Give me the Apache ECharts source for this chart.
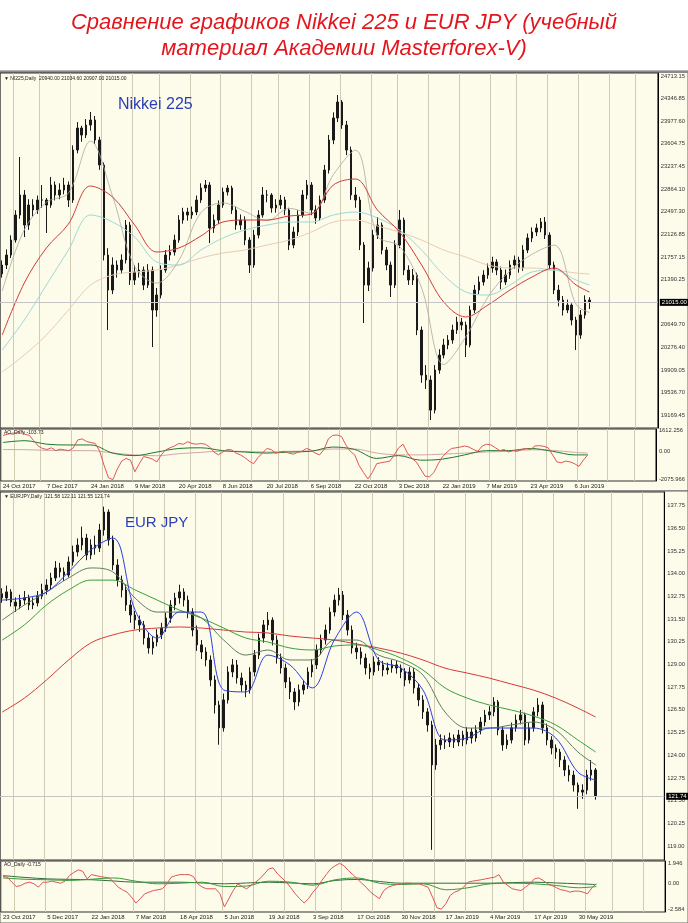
<!DOCTYPE html>
<html><head><meta charset="utf-8">
<script src="https://cdn.jsdelivr.net/npm/echarts@6.0.0/dist/echarts.min.js"></script>
<style>html,body{margin:0;padding:0;background:#ffffff;}#chart{width:688px;height:923px;}</style>
</head><body><div id="chart"></div>
<script>
// ================= DATA =================
const nikkeiDates = ['24 Oct 2017','7 Dec 2017','24 Jan 2018','9 Mar 2018','20 Apr 2018','8 Jun 2018','20 Jul 2018','6 Sep 2018','22 Oct 2018','3 Dec 2018','22 Jan 2019','7 Mar 2019','23 Apr 2019','6 Jun 2019'];
const eurjpyDates = ['23 Oct 2017','5 Dec 2017','22 Jan 2018','7 Mar 2018','18 Apr 2018','5 Jun 2018','19 Jul 2018','3 Sep 2018','17 Oct 2018','30 Nov 2018','17 Jan 2019','4 Mar 2019','17 Apr 2019','30 May 2019'];

const nikkeiPriceTicks = [24713.15,24346.85,23977.60,23604.75,23237.45,22864.10,22497.30,22126.85,21757.15,21390.25,20649.70,20276.40,19909.05,19536.70,19169.45];
const eurjpyPriceTicks = [137.75,136.50,135.25,134.00,132.75,131.50,130.25,129.00,127.75,126.50,125.25,124.00,122.75,121.50,120.25,119.00];
const nikkeiOscTicks = [1612.256, 0, -2075.966];
const nikkeiOscTickLabels = ['1612.256','0.00','-2075.966'];
const eurjpyOscTicks = [1.946, 0, -2.584];
const eurjpyOscTickLabels = ['1.946','0.00','-2.584'];

// candles: [open, close, low, high]
const nikkeiCandles = [
[21480,21625,21420,21700],[21625,21788,21560,21880],[21788,22033,21740,22110],[22033,22442,21990,22520],[22442,22769,22380,23390],
[22769,22278,22082,22850],[22278,22605,22200,22700],[22605,22524,22420,22700],[22524,22687,22460,22760],[22687,22687,22560,22932],
[22687,22605,22148,22720],[22605,22932,22560,23063],[22932,22769,22680,22990],[22769,22850,22700,22960],[22850,22932,22780,23050],
[22932,22687,22573,22990],[22687,23504,22640,23580],[23504,23863,23450,23960],[23863,23749,23640,23900],[23749,23912,23700,24010],
[23912,23994,23820,24125],[23994,23667,23600,24060],[23667,23259,23180,23720],[23259,21788,21700,23300],[21788,21216,20563,21900],
[21216,21625,21150,21750],[21625,21543,21420,21700],[21543,21707,21480,21800],[21707,22278,21650,22360],[22278,21380,21300,22330],
[21380,21510,21300,21620],[21510,21543,21420,21660],[21543,21298,21216,21600],[21298,21543,21250,21640],[21543,20890,20285,21600],
[20890,21135,20780,21250],[21135,21543,21080,21620],[21543,21788,21500,21870],[21788,21837,21700,21950],[21837,22033,21780,22120],
[22033,22360,21990,22440],[22360,22491,22300,22560],[22491,22442,22350,22560],[22442,22491,22380,22580],[22491,22687,22440,22760],
[22687,22883,22640,22960],[22883,22932,22820,23014],[22932,22229,21984,22980],[22229,22360,22150,22450],[22360,22605,22300,22680],
[22605,22818,22560,22890],[22818,22883,22760,22932],[22883,22524,22460,22920],[22524,22278,22200,22580],[22278,22360,22200,22450],
[22360,22033,21950,22420],[22033,21625,21494,22080],[21625,22115,21580,22200],[22115,22442,22060,22520],[22442,22769,22400,22899],
[22769,22769,22650,22850],[22769,22556,22480,22800],[22556,22605,22480,22700],[22605,22687,22540,22770],[22687,22524,22440,22740],
[22524,21952,21870,22560],[21952,22164,21900,22250],[22164,22442,22100,22520],[22442,22769,22400,22850],[22769,22932,22700,23014],
[22932,22524,22440,22980],[22524,22393,22300,22600],[22393,22687,22350,22760],[22687,23177,22640,23260],[23177,23667,23120,23750],
[23667,24027,23600,24120],[24027,24288,23960,24403],[24288,23912,23850,24320],[23912,23504,23420,23980],[23504,22769,22690,23560],
[22769,22687,22560,22899],[22687,21952,21870,22740],[21952,21298,20677,22000],[21298,21576,21200,21680],[21576,22115,21520,22200],
[22115,22278,22050,22409],[22278,21870,21800,22320],[21870,21625,21540,21920],[21625,21298,21102,21680],[21298,21952,21250,22030],
[21952,22360,21900,22524],[22360,21543,21460,22400],[21543,21380,21300,21620],[21380,21461,21298,21560],[21461,20563,20480,21500],
[20563,19827,19700,20620],[19827,19746,19600,19990],[19746,19255,19092,19820],[19255,19909,19200,19990],[19909,20154,19850,20250],
[20154,20318,20100,20420],[20318,20399,20250,20480],[20399,20563,20340,20650],[20563,20693,20500,20780],[20693,20644,20560,20760],
[20644,20318,20122,20700],[20318,20890,20280,20960],[20890,21216,20840,21300],[21216,21347,21150,21440],[21347,21461,21290,21540],
[21461,21576,21400,21650],[21576,21674,21500,21760],[21674,21543,21460,21720],[21543,21347,21230,21600],[21347,21461,21300,21550],
[21461,21625,21400,21700],[21625,21707,21560,21780],[21707,21576,21500,21760],[21576,21870,21530,21950],[21870,22066,21820,22140],
[22066,22164,22000,22240],[22164,22229,22100,22300],[22229,22328,22160,22393],[22328,22115,22050,22409],[22115,21625,21550,22160],
[21625,21216,21150,21680],[21216,21053,20950,21300],[21053,20890,20800,21120],[20890,20971,20840,21060],[20971,20726,20640,21000],
[20726,20481,20236,20780],[20481,20808,20420,20890],[20808,21053,20750,21130],[21053,21015,20907,21100]
];

// moving averages of Nikkei, read at these candle indices
const nikkeiMaIdx = [0,5,10,15,20,25,30,35,40,45,50,55,60,65,70,75,80,85,90,95,100,105,110,115,120,125,130,133];
const nikkeiMaRed   = [20482,21331,21903,22295,22916,22736,22278,21838,21903,22099,22328,22360,22360,22426,22458,22932,23030,22524,22164,21625,21021,20776,20971,21216,21429,21576,21298,21184];
const nikkeiMaCyan  = [20237,20727,21298,21870,22442,22328,22082,21674,21625,21870,22066,22197,22278,22328,22328,22442,22491,22393,22197,21870,21462,21184,21135,21298,21511,21543,21380,21298];
const nikkeiMaBeige = [19877,20155,20482,20890,21298,21462,21511,21543,21625,21740,21821,21870,21952,22033,22164,22328,22360,22262,22164,22033,21870,21756,21625,21576,21576,21543,21494,21478];
const nikkeiMaGray  = [21200,22200,22650,22800,23650,22750,21600,21330,21700,22480,22640,22500,22350,22550,22470,23100,23500,22100,21930,21250,20000,20450,21100,21530,21800,21950,20980,20850];

// Nikkei oscillator (one value per candle) and its two averages
const nikkeiOscRed = [1211,1290,1370,1400,1612,1290,1211,817,424,240,
163,290,80,190,135,80,290,870,951,765,
684,610,30,-1025,-1940,-2076,-1285,-700,-498,-630,
-1490,-892,-364,-440,-550,-758,-238,135,290,424,
610,557,740,610,557,610,557,345,-25,-238,
-25,163,135,-104,-238,-440,-700,-892,-440,-104,
240,163,-104,-25,30,-104,-185,-50,30,240,
135,-104,-238,163,951,1211,1240,1130,500,30,
-238,-1025,-1545,-2020,-1545,-892,-820,-758,-700,-238,
290,557,-104,-498,-758,-1285,-1813,-1870,-1545,-892,
-364,-25,240,290,345,424,345,163,30,424,
557,500,290,80,163,-25,80,30,163,240,
163,424,450,400,290,-238,-758,-820,-700,-758,
-892,-1090,-630,-238];
const nikkeiOscGreen = [684,817,557,500,500,-104,-290,-25,240,290,80,-25,-104,-25,30,345,163,-498,-290,-630,-550,-238,80,80,240,30,-238,-238];
const nikkeiOscGray  = [163,150,100,80,80,-100,-238,-300,-150,-50,40,20,-25,30,60,200,200,-100,-238,-238,-180,-104,-20,30,140,100,-50,-104];

const eurjpyCandles = [
[132.90,132.67,132.40,133.20],[132.67,133.00,132.50,133.35],[133.00,132.44,132.20,133.15],[132.44,132.22,131.90,132.70],[132.22,132.55,132.05,132.85],
[132.55,132.67,132.30,133.05],[132.67,132.28,132.00,132.85],[132.28,132.39,132.05,132.70],[132.39,132.77,132.20,133.05],[132.77,133.10,132.60,133.45],
[133.10,133.38,132.85,133.70],[133.38,133.77,133.10,134.05],[133.77,134.32,133.60,134.70],[134.32,134.10,133.80,134.60],[134.10,133.93,133.60,134.35],
[133.93,134.65,133.80,134.95],[134.65,135.20,134.45,135.55],[135.20,135.58,134.95,135.95],[135.58,135.97,135.30,136.60],[135.97,135.03,134.75,136.20],
[135.03,135.58,134.80,135.90],[135.58,135.42,135.05,136.10],[135.42,136.41,135.20,136.75],[136.41,137.40,136.10,137.70],[137.40,135.86,135.55,137.55],
[135.86,134.48,134.20,136.10],[134.48,133.66,133.30,134.80],[133.66,133.10,132.70,133.90],[133.10,132.28,131.95,133.40],[132.28,131.73,131.30,132.55],
[131.73,131.45,130.95,131.95],[131.45,131.18,130.80,131.70],[131.18,130.46,130.10,131.40],[130.46,129.91,129.60,130.75],[129.91,130.24,129.55,130.55],
[130.24,130.63,130.00,130.95],[130.63,131.01,130.40,131.30],[131.01,131.56,130.80,131.85],[131.56,132.28,131.30,132.55],[132.28,132.67,132.00,132.95],
[132.67,133.00,132.35,133.40],[133.00,132.55,132.20,133.20],[132.55,131.89,131.55,132.80],[131.89,130.90,130.55,132.10],[130.90,130.08,129.75,131.15],
[130.08,129.69,129.30,130.35],[129.69,129.25,128.90,129.95],[129.25,128.15,127.80,129.50],[128.15,126.77,126.30,128.40],[126.77,125.51,124.58,127.00],
[125.51,127.05,125.30,127.40],[127.05,128.59,126.85,128.90],[128.59,128.98,128.30,129.30],[128.98,128.26,127.95,129.25],[128.26,127.87,127.50,128.55],
[127.87,127.60,127.20,128.10],[127.60,128.59,127.40,128.85],[128.59,129.52,128.35,129.80],[129.52,130.46,129.30,130.70],[130.46,131.18,130.20,131.45],
[131.18,131.45,130.90,131.89],[131.45,130.35,130.05,131.60],[130.35,129.36,129.05,130.60],[129.36,128.81,128.50,129.60],[128.81,128.04,127.70,129.05],
[128.04,127.49,127.10,128.30],[127.49,126.94,126.50,127.70],[126.94,127.60,126.70,127.90],[127.60,127.87,127.35,128.15],[127.87,128.59,127.65,128.85],
[128.59,128.98,128.30,129.30],[128.98,129.80,128.75,130.10],[129.80,130.35,129.55,130.65],[130.35,130.90,130.10,131.20],[130.90,131.89,130.70,132.15],
[131.89,132.55,131.65,132.85],[132.55,132.83,132.25,133.22],[132.83,131.73,131.45,133.05],[131.73,130.90,130.60,132.00],[130.90,129.91,129.60,131.15],
[129.91,129.69,129.30,130.20],[129.69,129.36,129.00,129.95],[129.36,128.81,128.45,129.60],[128.81,128.59,128.20,129.05],[128.59,129.14,128.40,129.45],
[129.14,128.98,128.65,129.40],[128.98,128.70,128.35,129.20],[128.70,128.81,128.45,129.10],[128.81,128.98,128.55,129.25],[128.98,128.81,128.50,129.20],
[128.81,128.59,128.25,129.00],[128.59,128.15,127.80,128.80],[128.15,128.59,127.95,128.85],[128.59,127.71,127.40,128.80],[127.71,127.05,126.70,127.95],
[127.05,126.39,126.00,127.30],[126.39,125.67,125.30,126.60],[125.67,123.47,118.79,125.90],[123.47,124.57,123.20,124.90],[124.57,124.84,124.30,125.15],
[124.84,124.73,124.35,125.10],[124.73,124.95,124.45,125.25],[124.95,124.73,124.40,125.15],[124.73,125.12,124.50,125.40],[125.12,124.84,124.50,125.35],
[124.84,125.28,124.60,125.55],[125.28,124.95,124.65,125.50],[124.95,125.39,124.75,125.65],[125.39,125.83,125.15,126.10],[125.83,126.22,125.60,126.50],
[126.22,126.39,125.95,126.70],[126.39,126.94,126.15,127.20],[126.94,125.39,125.10,127.05],[125.39,124.57,124.25,125.60],[124.57,124.84,124.35,125.15],
[124.84,125.51,124.65,125.80],[125.51,125.94,125.30,126.25],[125.94,126.22,125.70,126.50],[126.22,124.84,124.55,126.35],[124.84,125.51,124.65,125.80],
[125.51,126.39,125.30,126.65],[126.39,126.77,126.15,127.15],[126.77,125.51,125.20,126.95],[125.51,124.84,124.55,125.75],[124.84,124.40,124.05,125.05],
[124.40,124.18,123.80,124.60],[124.18,123.74,123.35,124.35],[123.74,123.19,122.85,123.95],[123.19,122.91,122.55,123.45],[122.91,122.36,122.00,123.15],
[122.36,121.97,121.05,122.50],[121.97,122.08,121.60,122.40],[122.08,122.91,121.85,123.20],[122.91,123.19,122.60,123.74],[123.19,121.74,121.55,123.30]
];

const eurjpyMaIdx = [0,5,10,15,20,25,30,35,40,45,50,55,60,65,70,75,80,85,90,95,100,105,110,115,120,125,130,134];
const eurjpyMaRed   = [126.38,127.15,128.15,129.25,130.19,130.63,130.90,131.01,131.07,131.01,130.90,130.79,130.74,130.57,130.46,130.35,130.13,129.91,129.63,129.25,128.80,128.53,128.25,127.92,127.59,127.15,126.60,126.11];
const eurjpyMaGreen = [130.35,131.18,132.28,133.11,133.65,133.65,133.11,132.55,132.00,131.56,131.01,130.46,130.24,129.91,129.80,130.02,130.08,129.80,129.36,128.70,127.71,127.15,126.77,126.49,126.16,125.67,124.84,124.18];
const eurjpyMaDark  = [131.45,132.28,132.99,133.77,134.32,134.10,132.66,131.89,131.89,131.56,130.35,129.52,129.80,129.25,129.25,130.35,130.35,129.52,129.14,128.42,126.38,125.50,125.50,125.67,125.83,125.39,124.18,123.47];
const eurjpyMaBlue  = [132.55,132.67,132.99,134.10,135.31,135.97,132.00,130.46,131.89,131.89,127.60,127.49,129.52,128.97,127.71,130.35,131.89,129.25,128.81,127.60,124.84,124.95,125.50,125.50,125.50,124.95,123.07,122.63];

const eurjpyOscRed = [0.63,0.57,0.08,-0.35,-0.25,-0.02,0.08,-0.08,-0.41,0.08,
0.08,0.18,0.08,-0.02,0.18,0.73,1.05,1.29,1.16,0.41,
0.83,0.73,0.63,0.57,0.50,0.08,-0.41,-0.67,-0.90,-1.39,
-1.98,-1.55,-1.07,-0.90,-0.74,-0.67,-0.57,-0.08,0.57,0.73,
0.83,0.83,0.83,0.63,-0.08,-0.41,-0.57,-0.57,-0.57,-1.07,
-2.37,-1.55,-0.74,-0.08,-0.35,-0.57,-0.25,0.08,0.41,0.90,
1.39,1.49,0.90,0.50,0.08,-0.47,-1.07,-1.55,-1.98,-1.55,
-0.90,-0.41,0.25,0.83,1.39,1.70,1.946,1.70,1.23,0.83,
0.41,-0.02,-0.41,-0.90,-1.23,-1.55,-0.74,-0.41,-0.25,-0.15,
-0.08,-0.02,-0.02,-0.08,-0.08,-0.25,-0.41,-1.39,-2.44,-2.584,
-2.05,-1.23,-0.90,-0.74,-0.41,0.08,0.18,0.25,0.32,0.41,
0.50,0.57,0.83,0.08,-0.25,-0.57,-0.67,-0.74,-0.41,-0.08,
0.41,0.50,0.25,-0.08,-0.25,-0.47,-0.67,-0.74,-0.90,-0.80,
-0.80,-0.90,-1.07,-0.47,-0.08];
const eurjpyOscGreen = [0.50,0.37,0.32,0.25,0.37,0.50,0.18,-0.08,-0.02,0.08,-0.35,-0.30,0.18,0.08,-0.22,0.32,0.50,-0.02,-0.15,-0.08,-0.67,-0.47,-0.08,-0.02,-0.08,-0.25,-0.47,-0.35];
const eurjpyOscDark  = [0.73,0.55,0.41,0.36,0.32,0.20,0.08,0.08,0.08,0.00,-0.08,0.00,0.08,0.00,-0.08,0.25,0.35,0.15,-0.02,-0.02,-0.02,-0.02,-0.02,0.04,0.08,0.00,-0.08,-0.15];

// ================= LAYOUT / STYLE =================
const BARS_PER_LABEL = 10;
const NK_SLOTS = 149, EJ_SLOTS = 150;
const NK_W = 660, EJ_W = 665;
const CREAM = '#fdfbe9';
const GRIDLINE = '#cfcbb5';
const FONT = '"Liberation Sans", Arial, sans-serif';

const nkCats = Array.from({length: NK_SLOTS}, (_, i) => 'n' + i);
const ejCats = Array.from({length: EJ_SLOTS}, (_, i) => 'e' + i);

function pairs(idx, vals) { return vals.map((v, k) => [idx[k], v]); }

function vGrid(slotW, start, step) {
  return function (i) {
    const x = i * slotW;
    const k = Math.round((x - start) / step);
    return k >= 0 && Math.abs(start + k * step - x) <= slotW / 2;
  };
}

function xAx(gi, cats, dates, showLabels, totalW, start, step) {
  const slotW = totalW / cats.length;
  return {
    type: 'category', gridIndex: gi, data: cats, boundaryGap: true,
    axisLine: {show: false}, axisTick: {show: false},
    axisLabel: showLabels ? {
      show: true,
      interval: (i) => i % BARS_PER_LABEL === 0 && i / BARS_PER_LABEL < dates.length,
      formatter: (v, i) => dates[i / BARS_PER_LABEL] || '',
      align: 'left', fontSize: 6, color: '#222', margin: 2, fontFamily: FONT
    } : {show: false},
    splitLine: {show: true, interval: vGrid(slotW, start, step), lineStyle: {color: GRIDLINE, width: 1}}
  };
}

function yAx(gi, min, max, ticks, fmt) {
  return {
    type: 'value', gridIndex: gi, position: 'right', min: min, max: max,
    axisLine: {show: true, lineStyle: {color: '#000', width: 1}},
    axisTick: {show: false},
    axisLabel: {show: true, customValues: ticks, formatter: fmt, fontSize: 5.8, color: '#333', margin: 3, fontFamily: FONT},
    splitLine: {show: false}
  };
}

function line(xi, yi, data, color, width, z) {
  return {type: 'line', xAxisIndex: xi, yAxisIndex: yi, data: data, showSymbol: false, smooth: 0.35,
    lineStyle: {color: color, width: width}, itemStyle: {color: color}, z: z || 3, silent: true};
}

function candles(xi, yi, data, digits) {
  const last = data[data.length - 1][1];
  return {
    type: 'candlestick', xAxisIndex: xi, yAxisIndex: yi, data: data, barWidth: 2, z: 2,
    itemStyle: {color: '#1a1a1a', color0: '#1a1a1a', borderColor: '#1a1a1a', borderColor0: '#1a1a1a', borderWidth: 1},
    markLine: {
      silent: true, symbol: 'none', animation: false,
      data: [{yAxis: last}],
      lineStyle: {color: '#c4c4c4', width: 1, type: 'solid'},
      label: {position: 'end', formatter: last.toFixed(digits), color: '#fff', backgroundColor: '#000',
              fontSize: 6, fontFamily: FONT, padding: [1, 2, 0, 2], distance: 2}
    }
  };
}

const tickFmt = (vals, labels) => (v) => { const k = vals.findIndex(t => Math.abs(t - v) < 1e-6); return k >= 0 ? labels[k] : ''; };

const option = {
  animation: false,
  backgroundColor: '#ffffff',
  grid: [
    {left: 0, top: 73, width: NK_W, height: 355, show: true, borderColor: '#333', borderWidth: 1, backgroundColor: 'transparent'},
    {left: 0, top: 429, width: NK_W, height: 52, show: true, borderColor: '#333', borderWidth: 1, backgroundColor: 'transparent'},
    {left: 0, top: 492, width: EJ_W, height: 368, show: true, borderColor: '#333', borderWidth: 1, backgroundColor: 'transparent'},
    {left: 0, top: 861, width: EJ_W, height: 51, show: true, borderColor: '#333', borderWidth: 1, backgroundColor: 'transparent'}
  ],
  xAxis: [
    xAx(0, nkCats, nikkeiDates, false, NK_W, 11.7, 29.9),
    xAx(1, nkCats, nikkeiDates, true, NK_W, 11.7, 29.9),
    xAx(2, ejCats, eurjpyDates, false, EJ_W, 13, 30.05),
    xAx(3, ejCats, eurjpyDates, true, EJ_W, 13, 30.05)
  ],
  yAxis: [
    yAx(0, 18962.5, 24762.2, nikkeiPriceTicks, v => v.toFixed(2)),
    yAx(1, -2177, 1687, nikkeiOscTicks, tickFmt(nikkeiOscTicks, nikkeiOscTickLabels)),
    yAx(2, 118.23, 138.505, eurjpyPriceTicks, v => v.toFixed(2)),
    yAx(3, -2.866, 2.174, eurjpyOscTicks, tickFmt(eurjpyOscTicks, eurjpyOscTickLabels))
  ],
  series: [
    candles(0, 0, nikkeiCandles, 2),
    line(0, 0, pairs(nikkeiMaIdx, nikkeiMaBeige), '#e6cdb5', 1),
    line(0, 0, pairs(nikkeiMaIdx, nikkeiMaCyan), '#9ed8d6', 1),
    line(0, 0, pairs(nikkeiMaIdx, nikkeiMaGray), '#a9a9a0', 0.8),
    line(0, 0, pairs(nikkeiMaIdx, nikkeiMaRed), '#d43a3a', 1),
    {type: 'line', xAxisIndex: 1, yAxisIndex: 1, data: nikkeiOscRed, showSymbol: false, lineStyle: {color: '#e05555', width: 1}, z: 4, silent: true},
    line(1, 1, pairs(nikkeiMaIdx, nikkeiOscGray), '#cfa9a9', 1),
    line(1, 1, pairs(nikkeiMaIdx, nikkeiOscGreen), '#1e7a2a', 1),

    candles(2, 2, eurjpyCandles, 2),
    line(2, 2, pairs(eurjpyMaIdx, eurjpyMaRed), '#d43a3a', 1),
    line(2, 2, pairs(eurjpyMaIdx, eurjpyMaGreen), '#3aa03a', 1),
    line(2, 2, pairs(eurjpyMaIdx, eurjpyMaDark), '#5d7f5d', 1),
    line(2, 2, pairs(eurjpyMaIdx, eurjpyMaBlue), '#2b3fe0', 1),
    {type: 'line', xAxisIndex: 3, yAxisIndex: 3, data: eurjpyOscRed, showSymbol: false, lineStyle: {color: '#e05555', width: 1}, z: 4, silent: true},
    line(3, 3, pairs(eurjpyMaIdx, eurjpyOscDark), '#2e6e3a', 1),
    line(3, 3, pairs(eurjpyMaIdx, eurjpyOscGreen), '#3a9a3a', 1)
  ],
  graphic: [
    {type: 'rect', z: -10, shape: {x: 0, y: 71, width: 688, height: 420}, style: {fill: CREAM, stroke: '#666', lineWidth: 1}},
    {type: 'rect', z: -10, shape: {x: 0, y: 491, width: 688, height: 432}, style: {fill: CREAM, stroke: '#666', lineWidth: 1}},
    {type: 'rect', z: -9, shape: {x: 0, y: 71, width: 688, height: 2}, style: {fill: '#8a8a8a'}},
    {type: 'text', z: 100, x: 344, y: 23, style: {text: 'Сравнение графиков Nikkei 225 и EUR JPY (учебный', fill: '#e3161d', font: 'italic 22px ' + FONT, align: 'center', verticalAlign: 'middle'}},
    {type: 'text', z: 100, x: 344, y: 49, style: {text: 'материал Академии Masterforex-V)', fill: '#e3161d', font: 'italic 22px ' + FONT, align: 'center', verticalAlign: 'middle'}},
    {type: 'text', z: 100, x: 118, y: 105, style: {text: 'Nikkei 225', fill: '#2a3fb6', font: '16px ' + FONT, align: 'left', verticalAlign: 'middle'}},
    {type: 'text', z: 100, x: 125, y: 523, style: {text: 'EUR JPY', fill: '#2a3fb6', font: '15px ' + FONT, align: 'left', verticalAlign: 'middle'}},
    {type: 'text', z: 100, x: 4, y: 79, style: {text: '▼ NI225,Daily  20940.00 21034.60 20907.00 21015.00', fill: '#222', font: '5px ' + FONT, align: 'left', verticalAlign: 'middle'}},
    {type: 'text', z: 100, x: 4, y: 433, style: {text: 'AO_Daily -103.73', fill: '#222', font: '5px ' + FONT, align: 'left', verticalAlign: 'middle'}},
    {type: 'text', z: 100, x: 4, y: 497, style: {text: '▼ EURJPY,Daily  121.58 122.11 121.55 121.74', fill: '#222', font: '5px ' + FONT, align: 'left', verticalAlign: 'middle'}},
    {type: 'text', z: 100, x: 4, y: 865, style: {text: 'AO_Daily -0.715', fill: '#222', font: '5px ' + FONT, align: 'left', verticalAlign: 'middle'}}
  ]
};

const chart = echarts.init(document.getElementById('chart'), null, {renderer: 'canvas', width: 688, height: 923});
chart.setOption(option);
</script>
</body></html>
